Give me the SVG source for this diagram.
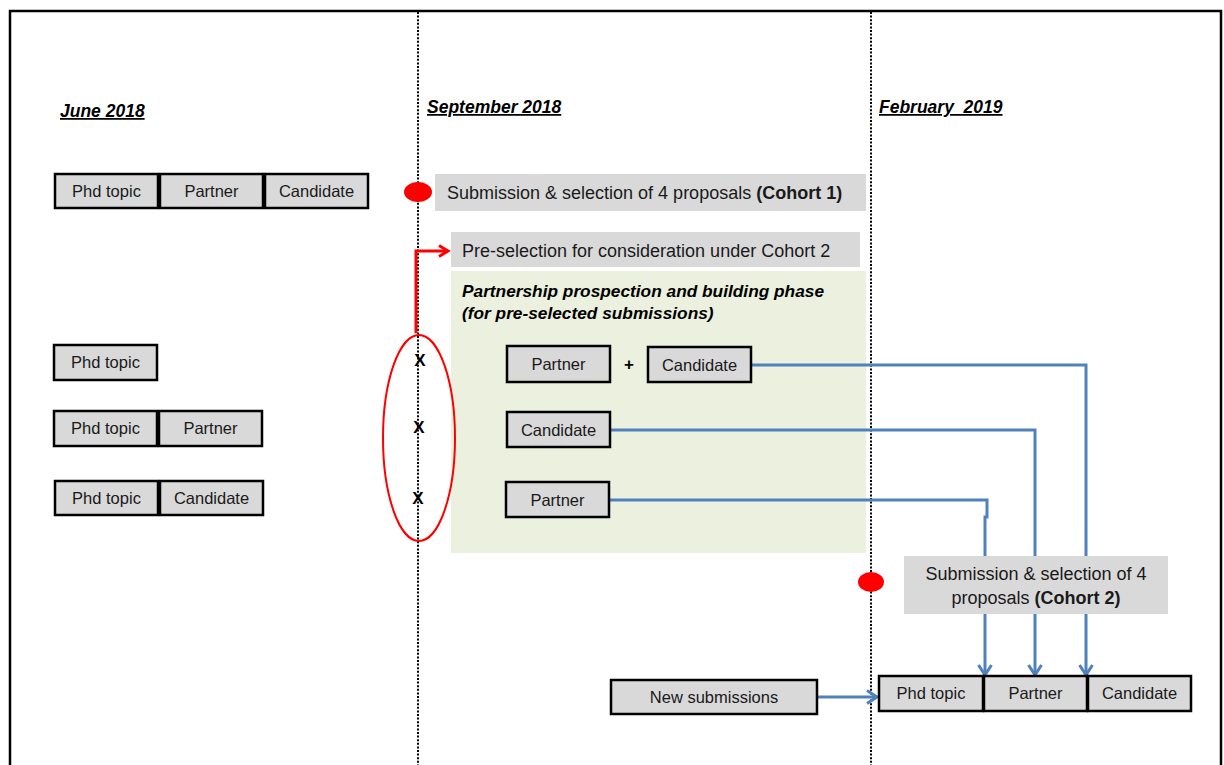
<svg xmlns="http://www.w3.org/2000/svg" width="1224" height="765" viewBox="0 0 1224 765">
<style>
.box{fill:#d9d9d9;stroke:#000;stroke-width:2.5}
.gbox{fill:#d9d9d9;stroke:none}
.t{font-family:"Liberation Sans",Arial,sans-serif;font-size:16.5px;fill:#1a1a1a;text-anchor:middle}
.t2{font-family:"Liberation Sans",Arial,sans-serif;font-size:18px;fill:#1a1a1a}
.hd{font-family:"Liberation Sans",Arial,sans-serif;font-size:17.5px;font-weight:bold;font-style:italic;text-decoration:underline;fill:#000}
.gi{font-family:"Liberation Sans",Arial,sans-serif;font-size:17.3px;font-weight:bold;font-style:italic;fill:#000}
.dot{stroke:#000;stroke-width:2;stroke-dasharray:2 1.6;fill:none}
.blue{stroke:#4f81bd;stroke-width:3;fill:none}
.x{font-family:"Liberation Sans",Arial,sans-serif;font-size:17px;font-weight:bold;fill:#000;text-anchor:middle}
</style>
<defs>
<marker id="ab" markerWidth="16" markerHeight="16" refX="12" refY="8" orient="auto" markerUnits="userSpaceOnUse">
<path d="M2,1.5 L12,8 L2,14.5" fill="none" stroke="#4f81bd" stroke-width="3"/>
</marker>
<marker id="ar" markerWidth="14" markerHeight="14" refX="11" refY="7" orient="auto" markerUnits="userSpaceOnUse">
<path d="M2,1.5 L11,7 L2,12.5" fill="none" stroke="#ff0000" stroke-width="3"/>
</marker>
</defs>
<rect width="1224" height="765" fill="#fff"/>
<g id="frame">
<path d="M10,765 L10,11 L1221,11 L1221,765" fill="none" stroke="#000" stroke-width="2.5"/>
<line class="dot" x1="418" y1="12" x2="418" y2="765"/>
<line class="dot" x1="871" y1="12" x2="871" y2="765"/>
</g>
<g id="headers">
<text class="hd" x="60" y="117">June 2018</text>
<text class="hd" x="427" y="113">September 2018</text>
<text class="hd" x="879" y="113" xml:space="preserve">February  2019</text>
</g>
<g id="green-phase">
<rect x="451" y="271" width="415" height="282" fill="#ebf1de"/>
<text class="gi" x="462" y="297">Partnership prospection and building phase</text>
<text class="gi" x="462" y="319">(for pre-selected submissions)</text>
</g>
<g id="connectors">
<polyline class="blue" points="751,365 1086,365 1086,675" marker-end="url(#ab)"/>
<polyline class="blue" points="610,430 1035,430 1035,675" marker-end="url(#ab)"/>
<polyline class="blue" points="609,500 987,500 987,517 985,517 985,675" marker-end="url(#ab)"/>
<line class="blue" x1="817" y1="697" x2="877" y2="697" marker-end="url(#ab)"/>
<polyline points="416,333 416,251 448,251" fill="none" stroke="#ff0000" stroke-width="3" marker-end="url(#ar)"/>
</g>
<g id="cohort1">
<ellipse cx="418" cy="192" rx="14" ry="10" fill="#ff0000"/>
<rect class="gbox" x="435" y="174" width="431" height="37"/>
<text class="t2" x="447" y="199">Submission &amp; selection of 4 proposals <tspan font-weight="bold">(Cohort 1)</tspan></text>
</g>
<g id="preselection">
<rect class="gbox" x="451" y="232" width="409" height="35"/>
<text class="t2" x="462" y="257">Pre-selection for consideration under Cohort 2</text>
</g>
<g id="cohort2">
<ellipse cx="871" cy="582" rx="13" ry="10" fill="#ff0000"/>
<rect class="gbox" x="904" y="556" width="264" height="58"/>
<text class="t2" x="1036" y="580" text-anchor="middle" font-size="17.5">Submission &amp; selection of 4</text>
<text class="t2" x="1036" y="604" text-anchor="middle" font-size="17.5">proposals <tspan font-weight="bold">(Cohort 2)</tspan></text>
</g>
<g id="row1">
<rect class="box" x="55" y="174" width="103" height="34"/><text class="t" x="106.5" y="197">Phd topic</text>
<rect class="box" x="160" y="174" width="103" height="34"/><text class="t" x="211.5" y="197">Partner</text>
<rect class="box" x="265" y="174" width="103" height="34"/><text class="t" x="316.5" y="197">Candidate</text>
</g>
<g id="row2">
<rect class="box" x="54" y="345" width="103" height="35"/><text class="t" x="105.5" y="368">Phd topic</text>
</g>
<g id="row3">
<rect class="box" x="54" y="411" width="103" height="35"/><text class="t" x="105.5" y="434">Phd topic</text>
<rect class="box" x="159" y="411" width="103" height="35"/><text class="t" x="210.5" y="434">Partner</text>
</g>
<g id="row4">
<rect class="box" x="55" y="481" width="103" height="34"/><text class="t" x="106.5" y="504">Phd topic</text>
<rect class="box" x="160" y="481" width="103" height="34"/><text class="t" x="211.5" y="504">Candidate</text>
</g>
<g id="rejected">
<ellipse cx="419" cy="438" rx="36" ry="103" fill="none" stroke="#ff0000" stroke-width="2"/>
<text class="x" x="420" y="366">X</text>
<text class="x" x="419" y="433">X</text>
<text class="x" x="418" y="504">X</text>
</g>
<g id="pre-selected">
<rect class="box" x="507" y="346" width="103" height="36"/><text class="t" x="558.5" y="370">Partner</text>
<text class="x" x="629" y="370">+</text>
<rect class="box" x="648" y="347" width="103" height="35"/><text class="t" x="699.5" y="371">Candidate</text>
<rect class="box" x="507" y="412" width="103" height="35"/><text class="t" x="558.5" y="436">Candidate</text>
<rect class="box" x="506" y="482" width="103" height="35"/><text class="t" x="557.5" y="506">Partner</text>
</g>
<g id="new-submissions">
<rect class="box" x="611" y="680" width="206" height="34"/><text class="t" x="714" y="703">New submissions</text>
</g>
<g id="final-row">
<rect class="box" x="879" y="676" width="104" height="35"/><text class="t" x="931" y="699">Phd topic</text>
<rect class="box" x="984" y="676" width="103" height="35"/><text class="t" x="1035.5" y="699">Partner</text>
<rect class="box" x="1088" y="676" width="103" height="35"/><text class="t" x="1139.5" y="699">Candidate</text>
</g>
</svg>
